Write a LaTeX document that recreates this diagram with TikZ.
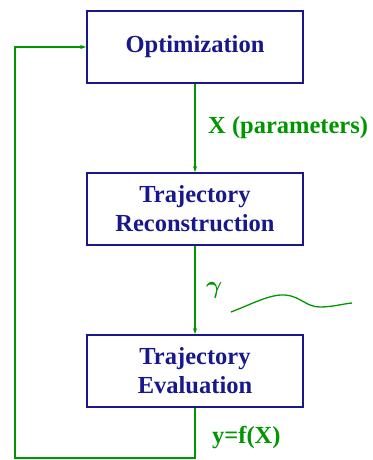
\documentclass[tikz,border=0pt]{standalone}
\usepackage{fontspec}
\setmainfont{Liberation Serif}
\usepackage{xcolor}
\definecolor{box-blue}{RGB}{24,24,140}
\definecolor{flow-green}{RGB}{0,150,0}
\usetikzlibrary{arrows.meta}
\tikzset{
	stage/.style={draw=box-blue,line width=1.6pt,text=box-blue,minimum width=216pt,
		minimum height=72pt,align=center,font=\bfseries\fontsize{24.5}{29}\selectfont},
	flow/.style={flow-green,line width=1.3pt},
	tag/.style={text=flow-green,font=\bfseries\fontsize{24.5}{29}\selectfont,inner sep=0pt}
}

\begin{document}
\begin{tikzpicture}[x=1pt,y=-1pt]
	\useasboundingbox (0,0) rectangle (372,460);
	
	\node[stage] (opt) at (195,47) {Optimization};
	\node[stage] (rec) at (195,209) {Trajectory\\Reconstruction};
	\node[stage] (eval) at (195,371) {Trajectory\\Evaluation};
	
	\draw[flow,-{Stealth[length=6pt,width=4pt]}] (opt) -- (rec);
	\draw[flow,-{Stealth[length=6pt,width=4pt]}] (rec) -- (eval);
	
	\coordinate (low) at (195,458);
	\coordinate (corner) at (15,458);
	\coordinate (top) at (15,47);
	\draw[flow,-{Stealth[length=6pt,width=4pt]}] (eval.south) -- (low) -- (corner)
		-- (top) -- (opt.west);
	
	\node[tag,anchor=west] (params) at (208,128) {X (parameters)};
	\node[tag,anchor=west,font=\fontsize{34}{34}\selectfont\boldmath] (gam) at (206,290) {$\gamma$};
	\node[tag,anchor=west] (yfx) at (212,438) {y=f(X)};
	
	% sketch of a trajectory
	\draw[flow] (231,312) .. controls (252,304) and (270,294) .. (285,295)
		.. controls (300,296) and (306,307) .. (320,307)
		.. controls (332,307) and (342,304) .. (352,303);
\end{tikzpicture}
\end{document}
